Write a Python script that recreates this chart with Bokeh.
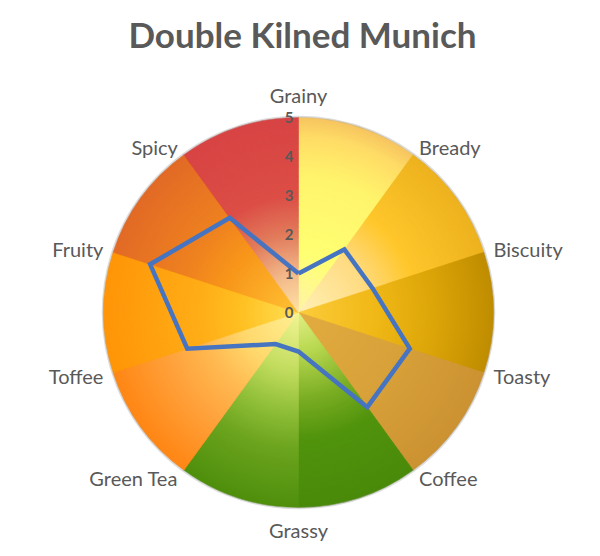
import numpy as np
from bokeh.plotting import figure
from bokeh.models import Range1d, ColumnDataSource, Label
from bokeh.embed import file_html
from bokeh.resources import INLINE
from bokeh.core.properties import value

# ---- data ----
title_text = "Double Kilned Munich"
categories = ["Grainy", "Bready", "Biscuity", "Toasty", "Coffee",
              "Grassy", "Green Tea", "Toffee", "Fruity", "Spicy"]
scores = [1, 2, 2, 3, 3, 1, 1, 3, 4, 3]
tick_values = [0, 1, 2, 3, 4, 5]
tick_labels = ["0", "1", "2", "3", "4", "5"]
r_max = 5

# ---- style: radial gradient stops for each background slice (slice i spans category i -> i+1) ----
slice_stops = [
    [(0.0, "#fff3a8"), (0.3, "#ffff72"), (0.7, "#fff46c"), (0.9, "#ffdc66"), (1.0, "#f6c460")],
    [(0.0, "#fff0b4"), (0.35, "#ffdc84"), (0.6, "#ffc72c"), (1.0, "#edb21e")],
    [(0.0, "#fccc3c"), (0.4, "#f0b816"), (0.7, "#dca508"), (1.0, "#bf8c00")],
    [(0.0, "#e2ac40"), (0.5, "#d9a23a"), (1.0, "#cc9232")],
    [(0.0, "#e2ef86"), (0.2, "#b8d850"), (0.45, "#78ac22"), (0.65, "#50930c"), (1.0, "#4a8a0a")],
    [(0.0, "#f2f594"), (0.3, "#c2dc5e"), (0.5, "#92c03a"), (0.7, "#6ca41e"), (1.0, "#4e8f0c")],
    [(0.0, "#fff094"), (0.3, "#ffd86c"), (0.5, "#ffb850"), (0.7, "#ffa23c"), (1.0, "#ff8614")],
    [(0.0, "#ffe054"), (0.3, "#ffc022"), (0.5, "#ffae18"), (1.0, "#ff9508")],
    [(0.0, "#ffc234"), (0.4, "#f8961a"), (0.6, "#ef8220"), (1.0, "#e26a26")],
    [(0.0, "#ffe2a4"), (0.2, "#f2b98a"), (0.4, "#e27c5c"), (0.6, "#dc4e46"), (1.0, "#d84444")],
]

PX = 39.0          # pixels per unit
W, H = 584, 548
CX, CY = 298, 312  # centre in canvas pixels (from left / from top)

def hex2rgb(h):
    h = h.lstrip("#")
    return np.array([int(h[i:i + 2], 16) for i in (0, 2, 4)], dtype=float)

def interp(stops, t):
    for (t0, c0), (t1, c1) in zip(stops[:-1], stops[1:]):
        if t <= t1:
            f = 0 if t1 == t0 else (t - t0) / (t1 - t0)
            c = hex2rgb(c0) * (1 - f) + hex2rgb(c1) * f
            return "#%02x%02x%02x" % tuple(int(round(v)) for v in c)
    return stops[-1][1]

p = figure(width=W, height=H, output_backend="svg", toolbar_location=None,
           x_range=Range1d(-CX / PX, (W - CX) / PX),
           y_range=Range1d(-(H - CY) / PX, CY / PX),
           min_border=0)
p.axis.visible = False
p.grid.visible = False
p.outline_line_color = None
p.background_fill_color = "white"
p.border_fill_color = "white"

n = len(categories)
step = 360.0 / n
cat_ang = np.radians(90 - step * np.arange(n))   # math angle of each category axis

# gradient slices, drawn from outer ring to inner ring
N = 80
xs, rad, sa, ea, cols = [], [], [], [], []
for k in range(N, 0, -1):
    rr = r_max * k / N
    for i in range(n):
        xs.append(0)
        rad.append(rr)
        sa.append(90 - step * (i + 1))
        ea.append(90 - step * i)
        cols.append(interp(slice_stops[i], (k - 0.5) / N))
bg = ColumnDataSource(dict(x=xs, y=xs, r=rad, s=sa, e=ea, c=cols))
p.wedge(x="x", y="y", radius="r", start_angle="s", end_angle="e",
        start_angle_units="deg", end_angle_units="deg",
        fill_color="c", line_color="c", line_width=0.6, source=bg)

# soft rim
p.circle(x=[0], y=[0], radius=r_max + 0.02, fill_color=None,
         line_color="#9a9a9a", line_alpha=0.35, line_width=2)

# data polygon
sx = [s * np.cos(a) for s, a in zip(scores, cat_ang)]
sy = [s * np.sin(a) for s, a in zip(scores, cat_ang)]
p.line(sx + sx[:1], sy + sy[:1], line_color="#4674c0", line_width=4.5,
       line_join="miter")

# tick labels on the vertical axis
p.text(x=[-0.13] * len(tick_values), y=tick_values, text=tick_labels,
       text_align="right", text_baseline="middle",
       text_font=value("Lato"), text_font_style="bold",
       text_font_size="15px", text_color="#595959")

# category labels
r_lab = 5.26
lx, ly, la, lb = [], [], [], []
for i, a in enumerate(cat_ang):
    c, s = np.cos(a), np.sin(a)
    lx.append(r_lab * c)
    ly.append(r_lab * s)
    if abs(c) < 1e-6:
        la.append("center")
        lb.append("bottom" if s > 0 else "top")
    else:
        la.append("left" if c > 0 else "right")
        lb.append("middle")
lab = ColumnDataSource(dict(x=lx, y=ly, t=categories, a=la, b=lb))
p.text(x="x", y="y", text="t", text_align="a", text_baseline="b",
       text_font=value("Lato"), text_font_size="20px",
       text_color="#595959", source=lab)

# title
p.add_layout(Label(x=(302 - CX) / PX, y=(CY - 33) / PX,
                   text=title_text, text_align="center", text_baseline="middle",
                   text_font="Lato", text_font_style="bold",
                   text_font_size="35px", text_color="#595959"))

open("out.html", "w").write(file_html(p, INLINE))
